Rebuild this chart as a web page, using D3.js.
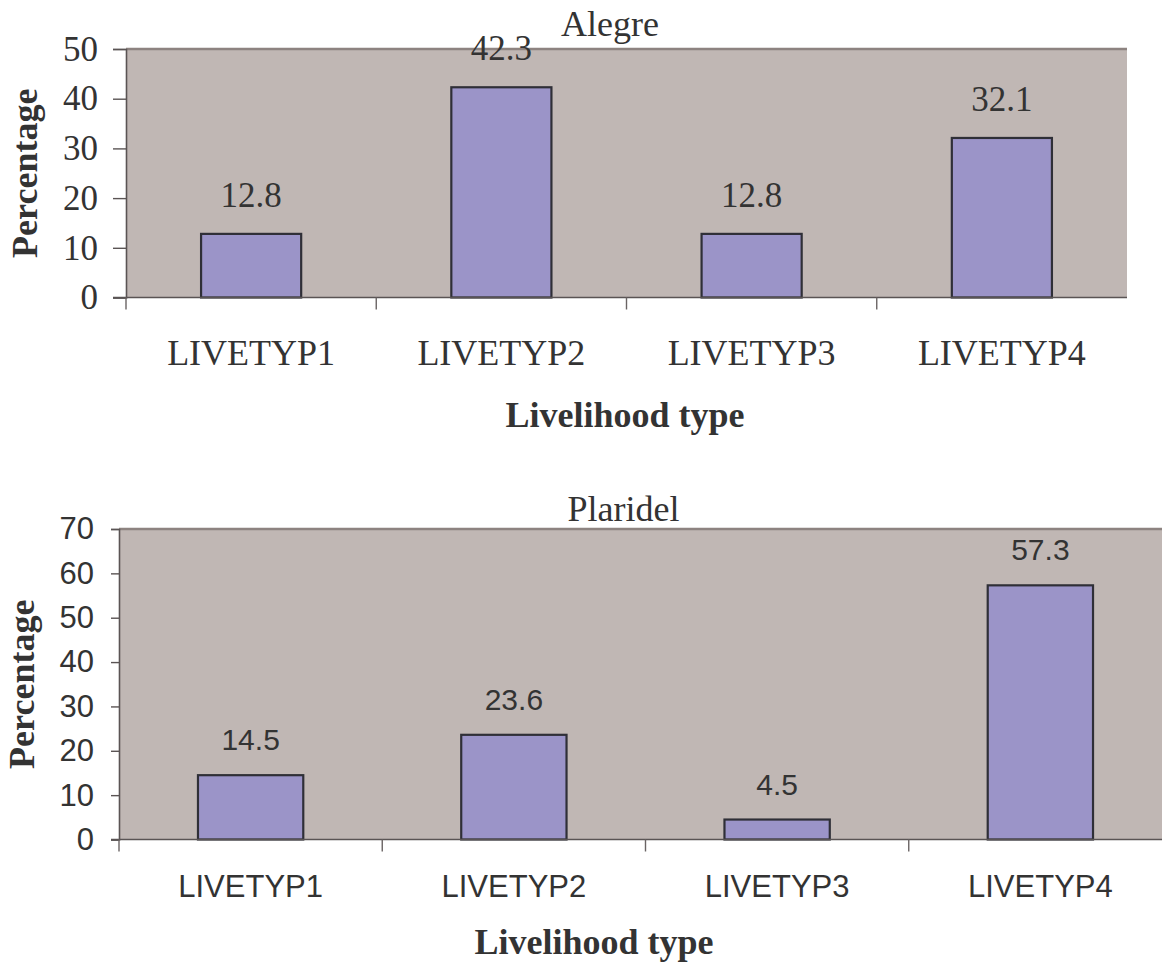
<!DOCTYPE html>
<html>
<head>
<meta charset="utf-8">
<script src="https://cdn.jsdelivr.net/npm/d3@7"></script>
<style>
  html, body { margin: 0; padding: 0; background: #ffffff; }
  svg { display: block; }
</style>
</head>
<body>
<svg id="chart" width="1162" height="962"></svg>
<script>
// Livelihood type distribution for the two municipalities
const categories = ["LIVETYP1", "LIVETYP2", "LIVETYP3", "LIVETYP4"];
const alegreValues = [12.8, 42.3, 12.8, 32.1];
const plaridelValues = [14.5, 23.6, 4.5, 57.3];
const alegreTicks = [0, 10, 20, 30, 40, 50];
const plaridelTicks = [0, 10, 20, 30, 40, 50, 60, 70];

const svg = d3.select("#chart");
const TEXT = "#333333";
const SERIF = "'Liberation Serif', 'Times New Roman', serif";
const SANS = "'Liberation Sans', Arial, sans-serif";

const panels = [
  {
    title: "Alegre", values: alegreValues, ticks: alegreTicks,
    left: 126, right: 1127, top: 49, bottom: 297.5,
    titleX: 610, titleY: 36,
    tickFont: SERIF, tickSize: 35, tickLen: 13, tickPad: 15,
    labelFont: SERIF, labelSize: 35, labelGap: 27,
    catFont: SERIF, catSize: 36, catY: 365,
    xTitleX: 625, xTitleY: 427, yTitleX: 37
  },
  {
    title: "Plaridel", values: plaridelValues, ticks: plaridelTicks,
    left: 119, right: 1172, top: 529, bottom: 839.5,
    titleX: 623.5, titleY: 521,
    tickFont: SANS, tickSize: 31, tickLen: 8, tickPad: 17,
    labelFont: SANS, labelSize: 30, labelGap: 25,
    catFont: SANS, catSize: 31, catY: 897,
    xTitleX: 594, xTitleY: 954, yTitleX: 34
  }
];

panels.forEach(p => {
  const g = svg.append("g");

  const x = d3.scaleBand()
    .domain(categories)
    .range([p.left, p.right])
    .paddingInner(0.6)
    .paddingOuter(0.3);

  const y = d3.scaleLinear()
    .domain([0, d3.max(p.ticks)])
    .range([p.bottom, p.top]);

  // plot area
  g.append("rect")
    .attr("x", p.left).attr("y", p.top)
    .attr("width", p.right - p.left).attr("height", p.bottom - p.top)
    .attr("fill", "#c0b7b4");
  g.append("line")
    .attr("x1", p.left).attr("x2", p.right)
    .attr("y1", p.top).attr("y2", p.top)
    .attr("stroke", "#8d8380").attr("stroke-width", 2.5);

  // bars
  g.selectAll("rect.bar")
    .data(p.values)
    .join("rect")
    .attr("class", "bar")
    .attr("x", (d, i) => x(categories[i]))
    .attr("y", d => y(d))
    .attr("width", x.bandwidth())
    .attr("height", d => y(0) - y(d))
    .attr("fill", "#9b94c8")
    .attr("stroke", "#2f2f37")
    .attr("stroke-width", 2.2);

  // value labels
  g.selectAll("text.val")
    .data(p.values)
    .join("text")
    .attr("class", "val")
    .attr("x", (d, i) => x(categories[i]) + x.bandwidth() / 2)
    .attr("y", d => y(d) - p.labelGap)
    .attr("text-anchor", "middle")
    .attr("font-family", p.labelFont)
    .attr("font-size", p.labelSize)
    .attr("fill", TEXT)
    .text(d => d.toFixed(1));

  // y axis
  const yAxis = g.append("g")
    .attr("transform", `translate(${p.left},0)`)
    .call(d3.axisLeft(y).tickValues(p.ticks).tickSize(p.tickLen).tickPadding(p.tickPad).tickFormat(d3.format("d")));
  yAxis.select(".domain").attr("stroke", "#5a5454").attr("stroke-width", 1.6);
  yAxis.selectAll(".tick line").attr("stroke", "#5a5454").attr("stroke-width", 1.4);
  yAxis.selectAll(".tick text")
    .attr("font-family", p.tickFont)
    .attr("font-size", p.tickSize)
    .attr("fill", TEXT);

  // x baseline and category boundary ticks
  g.append("line")
    .attr("x1", p.left - p.tickLen).attr("x2", p.right)
    .attr("y1", y(0)).attr("y2", y(0))
    .attr("stroke", "#5a5454").attr("stroke-width", 1.6);
  g.selectAll("line.cat-tick")
    .data(categories)
    .join("line")
    .attr("class", "cat-tick")
    .attr("x1", d => x(d) - x.step() * 0.3)
    .attr("x2", d => x(d) - x.step() * 0.3)
    .attr("y1", y(0)).attr("y2", y(0) + 12)
    .attr("stroke", "#6a6464").attr("stroke-width", 1.4);

  // category labels
  g.selectAll("text.cat")
    .data(categories)
    .join("text")
    .attr("class", "cat")
    .attr("x", d => x(d) + x.bandwidth() / 2)
    .attr("y", p.catY)
    .attr("text-anchor", "middle")
    .attr("font-family", p.catFont)
    .attr("font-size", p.catSize)
    .attr("fill", TEXT)
    .text(d => d);

  // titles
  g.append("text")
    .attr("x", p.titleX).attr("y", p.titleY)
    .attr("text-anchor", "middle")
    .attr("font-family", SERIF).attr("font-size", 36)
    .attr("fill", TEXT)
    .text(p.title);

  g.append("text")
    .attr("x", p.xTitleX).attr("y", p.xTitleY)
    .attr("text-anchor", "middle")
    .attr("font-family", SERIF).attr("font-size", 36).attr("font-weight", "bold")
    .attr("fill", TEXT)
    .text("Livelihood type");

  g.append("text")
    .attr("transform", `translate(${p.yTitleX},${(p.top + p.bottom) / 2}) rotate(-90)`)
    .attr("text-anchor", "middle")
    .attr("font-family", SERIF).attr("font-size", 36).attr("font-weight", "bold")
    .attr("fill", TEXT)
    .text("Percentage");
});
</script>
</body>
</html>
